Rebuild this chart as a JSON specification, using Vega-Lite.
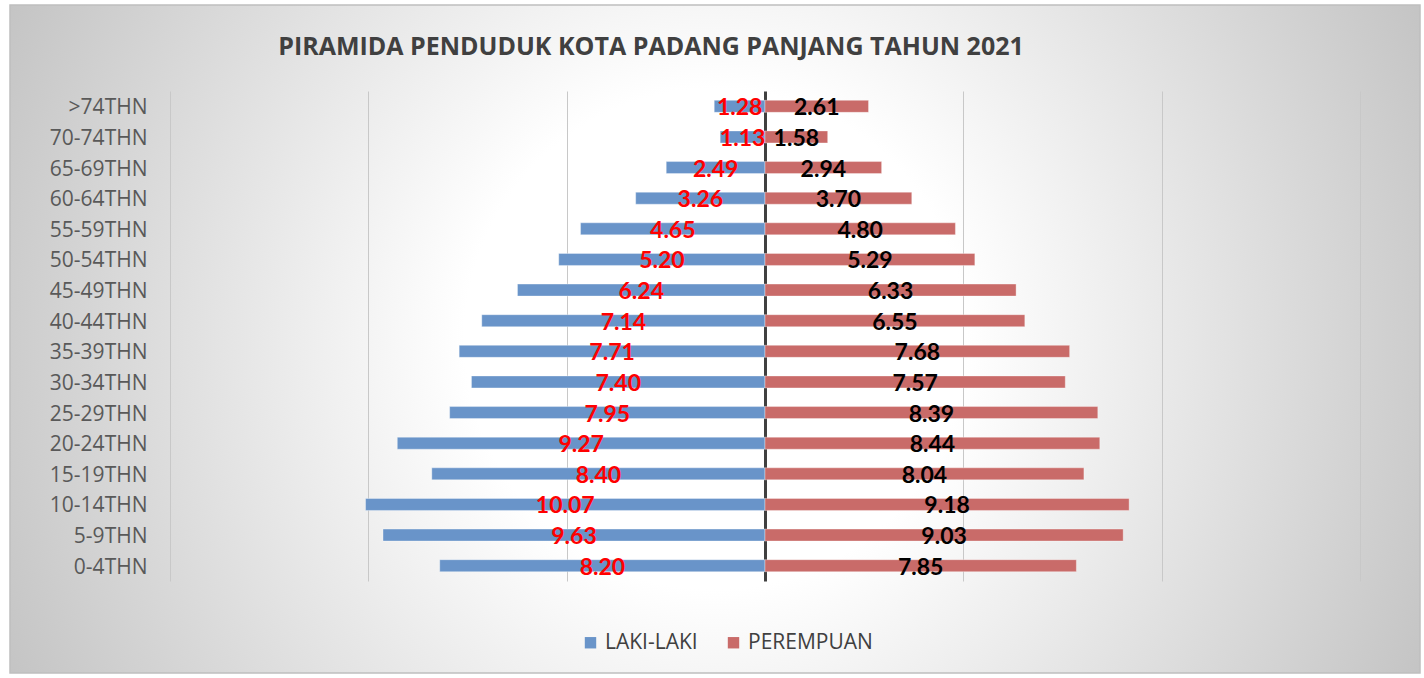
{
  "$schema": "https://vega.github.io/schema/vega-lite/v6.json",
  "width": 1410,
  "height": 668,
  "autosize": {"type": "none"},
  "padding": {"left": 10, "top": 5, "right": 4, "bottom": 5},
  "background": "#ffffff",
  "title": {
    "text": "PIRAMIDA PENDUDUK KOTA PADANG PANJANG TAHUN 2021",
    "font": "Open Sans",
    "fontSize": 25,
    "fontWeight": "bold",
    "color": "#404040",
    "anchor": "middle",
    "dx": -64,
    "offset": -75,
    "baseline": "alphabetic"
  },
  "config": {
    "view": {
      "fill": {
        "gradient": "radial",
        "x1": 0.5, "y1": 0.5, "r1": 0,
        "x2": 0.5, "y2": 0.5, "r2": 0.555,
        "stops": [
          {"offset": 0, "color": "#ffffff"},
          {"offset": 0.32, "color": "#ffffff"},
          {"offset": 1, "color": "#c4c4c4"}
        ]
      },
      "stroke": "#bfbfbf",
      "strokeWidth": 1.5
    }
  },
  "data": {
    "values": [
      {"age": ">74THN", "sex": "LAKI-LAKI", "v": -1.28, "label": "1.28"},
      {"age": "70-74THN", "sex": "LAKI-LAKI", "v": -1.13, "label": "1.13"},
      {"age": "65-69THN", "sex": "LAKI-LAKI", "v": -2.49, "label": "2.49"},
      {"age": "60-64THN", "sex": "LAKI-LAKI", "v": -3.26, "label": "3.26"},
      {"age": "55-59THN", "sex": "LAKI-LAKI", "v": -4.65, "label": "4.65"},
      {"age": "50-54THN", "sex": "LAKI-LAKI", "v": -5.20, "label": "5.20"},
      {"age": "45-49THN", "sex": "LAKI-LAKI", "v": -6.24, "label": "6.24"},
      {"age": "40-44THN", "sex": "LAKI-LAKI", "v": -7.14, "label": "7.14"},
      {"age": "35-39THN", "sex": "LAKI-LAKI", "v": -7.71, "label": "7.71"},
      {"age": "30-34THN", "sex": "LAKI-LAKI", "v": -7.40, "label": "7.40"},
      {"age": "25-29THN", "sex": "LAKI-LAKI", "v": -7.95, "label": "7.95"},
      {"age": "20-24THN", "sex": "LAKI-LAKI", "v": -9.27, "label": "9.27"},
      {"age": "15-19THN", "sex": "LAKI-LAKI", "v": -8.40, "label": "8.40"},
      {"age": "10-14THN", "sex": "LAKI-LAKI", "v": -10.07, "label": "10.07"},
      {"age": "5-9THN", "sex": "LAKI-LAKI", "v": -9.63, "label": "9.63"},
      {"age": "0-4THN", "sex": "LAKI-LAKI", "v": -8.20, "label": "8.20"},
      {"age": ">74THN", "sex": "PEREMPUAN", "v": 2.61, "label": "2.61"},
      {"age": "70-74THN", "sex": "PEREMPUAN", "v": 1.58, "label": "1.58"},
      {"age": "65-69THN", "sex": "PEREMPUAN", "v": 2.94, "label": "2.94"},
      {"age": "60-64THN", "sex": "PEREMPUAN", "v": 3.70, "label": "3.70"},
      {"age": "55-59THN", "sex": "PEREMPUAN", "v": 4.80, "label": "4.80"},
      {"age": "50-54THN", "sex": "PEREMPUAN", "v": 5.29, "label": "5.29"},
      {"age": "45-49THN", "sex": "PEREMPUAN", "v": 6.33, "label": "6.33"},
      {"age": "40-44THN", "sex": "PEREMPUAN", "v": 6.55, "label": "6.55"},
      {"age": "35-39THN", "sex": "PEREMPUAN", "v": 7.68, "label": "7.68"},
      {"age": "30-34THN", "sex": "PEREMPUAN", "v": 7.57, "label": "7.57"},
      {"age": "25-29THN", "sex": "PEREMPUAN", "v": 8.39, "label": "8.39"},
      {"age": "20-24THN", "sex": "PEREMPUAN", "v": 8.44, "label": "8.44"},
      {"age": "15-19THN", "sex": "PEREMPUAN", "v": 8.04, "label": "8.04"},
      {"age": "10-14THN", "sex": "PEREMPUAN", "v": 9.18, "label": "9.18"},
      {"age": "5-9THN", "sex": "PEREMPUAN", "v": 9.03, "label": "9.03"},
      {"age": "0-4THN", "sex": "PEREMPUAN", "v": 7.85, "label": "7.85"}
    ]
  },
  "encoding": {
    "y": {
      "field": "age",
      "type": "nominal",
      "sort": [">74THN", "70-74THN", "65-69THN", "60-64THN", "55-59THN", "50-54THN", "45-49THN", "40-44THN", "35-39THN", "30-34THN", "25-29THN", "20-24THN", "15-19THN", "10-14THN", "5-9THN", "0-4THN"],
      "scale": {"range": [86, 576], "paddingInner": 0, "paddingOuter": 0},
      "axis": {
        "title": null,
        "orient": "left",
        "offset": -160,
        "labelPadding": 23,
        "labelOffset": 2,
        "ticks": false,
        "domain": false,
        "grid": false,
        "labelFont": "Open Sans",
        "labelFontSize": 21,
        "labelColor": "#595959"
      }
    }
  },
  "layer": [
    {
      "mark": {"type": "bar", "size": 12, "stroke": "#ffffff", "strokeOpacity": 0.35, "strokeWidth": 1},
      "encoding": {
        "x": {
          "field": "v",
          "type": "quantitative",
          "stack": "zero",
          "scale": {"domain": [-15, 15], "range": [160, 1350], "nice": false, "zero": false},
          "axis": {
            "title": null,
            "orient": "top",
            "values": [-15, -10, -5, 0, 5, 10, 15],
            "labels": false,
            "ticks": false,
            "domain": false,
            "grid": true,
            "gridColor": {"condition": {"test": "datum.value === 0", "value": "#404040"}, "value": "#c8c8c8"},
            "gridWidth": {"condition": {"test": "datum.value === 0", "value": 3}, "value": 1}
          }
        },
        "color": {
          "field": "sex",
          "type": "nominal",
          "scale": {"domain": ["LAKI-LAKI", "PEREMPUAN"], "range": ["#6994c9", "#c96b69"]},
          "legend": {
            "title": null,
            "orient": "none",
            "legendX": 570,
            "legendY": 627,
            "direction": "horizontal",
            "symbolType": "square",
            "symbolSize": 130,
            "symbolStrokeWidth": 0,
            "labelFont": "Open Sans",
            "labelFontSize": 21,
            "labelColor": "#404040",
            "columnPadding": 25
          }
        }
      }
    },
    {
      "mark": {"type": "text", "font": "Lato", "fontSize": 23, "fontWeight": "bold", "baseline": "middle", "dy": 2},
      "encoding": {
        "x": {"field": "v", "type": "quantitative", "stack": "zero", "bandPosition": 0.5},
        "detail": {"field": "sex"},
        "text": {"field": "label"},
        "color": {"condition": {"test": "datum.sex === 'LAKI-LAKI'", "value": "#ff0000"}, "value": "#000000"}
      }
    }
  ]
}
